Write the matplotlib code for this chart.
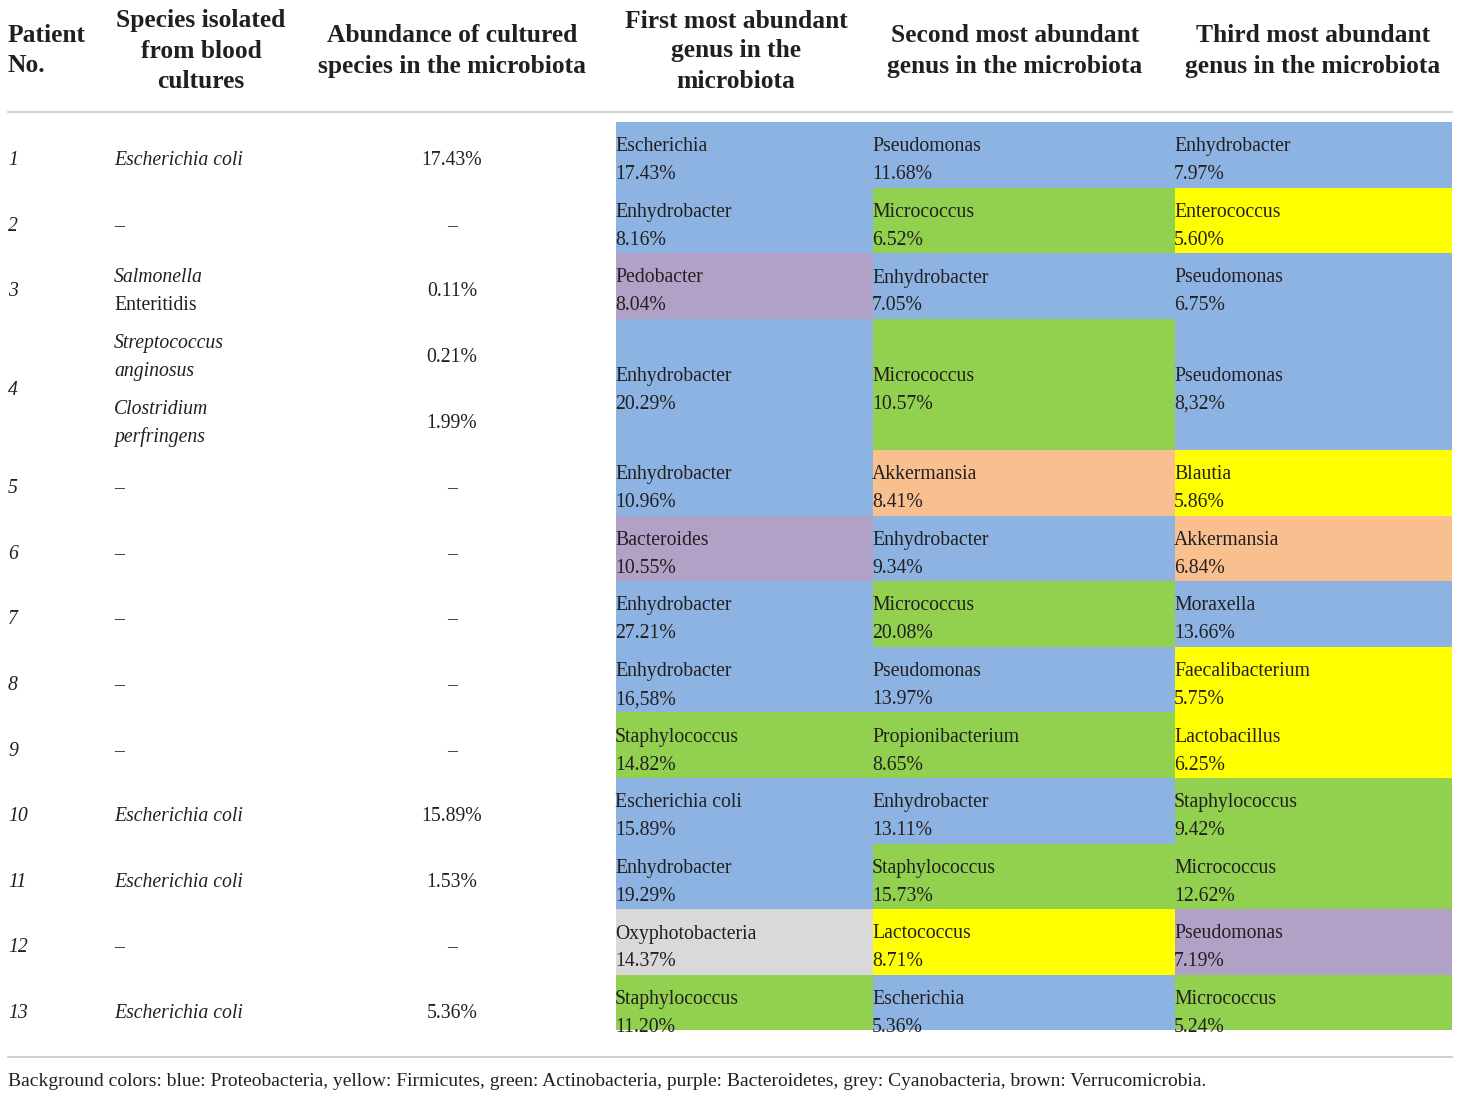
import matplotlib
matplotlib.use("Agg")
import matplotlib.pyplot as plt
from matplotlib.patches import Rectangle

plt.rcParams['font.family'] = ['Liberation Serif', 'DejaVu Serif']

patients = ["1", "2", "3", "4", "5", "6", "7", "8", "9", "10", "11", "12", "13"]
species = [["Escherichia coli"], ["–"], ["Salmonella\nEnteritidis"],
           ["Streptococcus\nanginosus", "Clostridium\nperfringens"],
           ["–"], ["–"], ["–"], ["–"], ["–"], ["Escherichia coli"], ["Escherichia coli"], ["–"], ["Escherichia coli"]]
species_italic_first_line_only = [False, False, True, False, False, False, False, False, False, False, False, False, False]
abundance = [["17.43%"], ["–"], ["0.11%"], ["0.21%", "1.99%"], ["–"], ["–"], ["–"], ["–"], ["–"],
             ["15.89%"], ["1.53%"], ["–"], ["5.36%"]]
row_span = [1, 1, 1, 2, 1, 1, 1, 1, 1, 1, 1, 1, 1]

first_genus = ["Escherichia", "Enhydrobacter", "Pedobacter", "Enhydrobacter", "Enhydrobacter", "Bacteroides",
               "Enhydrobacter", "Enhydrobacter", "Staphylococcus", "Escherichia coli", "Enhydrobacter",
               "Oxyphotobacteria", "Staphylococcus"]
first_pct = ["17.43%", "8.16%", "8.04%", "20.29%", "10.96%", "10.55%", "27.21%", "16,58%", "14.82%",
             "15.89%", "19.29%", "14.37%", "11.20%"]
first_phylum = ["blue", "blue", "purple", "blue", "blue", "purple", "blue", "blue", "green", "blue", "blue",
                "grey", "green"]

second_genus = ["Pseudomonas", "Micrococcus", "Enhydrobacter", "Micrococcus", "Akkermansia", "Enhydrobacter",
                "Micrococcus", "Pseudomonas", "Propionibacterium", "Enhydrobacter", "Staphylococcus",
                "Lactococcus", "Escherichia"]
second_pct = ["11.68%", "6.52%", "7.05%", "10.57%", "8.41%", "9.34%", "20.08%", "13.97%", "8.65%",
              "13.11%", "15.73%", "8.71%", "5.36%"]
second_phylum = ["blue", "green", "blue", "green", "brown", "blue", "green", "blue", "green", "blue", "green",
                 "yellow", "blue"]

third_genus = ["Enhydrobacter", "Enterococcus", "Pseudomonas", "Pseudomonas", "Blautia", "Akkermansia",
               "Moraxella", "Faecalibacterium", "Lactobacillus", "Staphylococcus", "Micrococcus",
               "Pseudomonas", "Micrococcus"]
third_pct = ["7.97%", "5.60%", "6.75%", "8,32%", "5.86%", "6.84%", "13.66%", "5.75%", "6.25%", "9.42%",
             "12.62%", "7.19%", "5.24%"]
third_phylum = ["blue", "yellow", "blue", "blue", "yellow", "brown", "blue", "yellow", "yellow", "green",
                "green", "purple", "green"]

headers = [["Patient", "No."], ["Species isolated", "from blood", "cultures"],
           ["Abundance of cultured", "species in the microbiota"],
           ["First most abundant", "genus in the", "microbiota"], ["Second most abundant", "genus in the microbiota"],
           ["Third most abundant", "genus in the microbiota"]]
footnote = ("Background colors: blue: Proteobacteria, yellow: Firmicutes, green: Actinobacteria, "
            "purple: Bacteroidetes, grey: Cyanobacteria, brown: Verrucomicrobia.")

phylum_colors = {"blue": "#8DB3E2", "green": "#92D050", "yellow": "#FFFF00", "purple": "#B2A1C7",
                 "grey": "#D9D9D9", "brown": "#FABF8F"}

W, H = 1460, 1098
fig = plt.figure(figsize=(W / 100, H / 100), dpi=100)
ax = fig.add_axes([0, 0, 1, 1])
ax.set_xlim(0, W)
ax.set_ylim(H, 0)
ax.axis("off")

FS = 14.2
HFS = 18.4
txt = "#231f20"

# headers
hx = [8, 201, 452, 736, 1015, 1313]
hal = ["left", "center", "center", "center", "center", "center"]
for x, a, lines in zip(hx, hal, headers):
    n = len(lines)
    for k, line in enumerate(lines):
        yy = 51 + (k - (n - 1) / 2) * 30
        ax.text(x, yy, line, ha=a, va="center", fontsize=HFS, fontweight="bold", color=txt)

ax.plot([8, 1452], [112, 112], color="#c8c8c8", lw=1.2)

# colored columns
col_x = [616, 873, 1175, 1452]
top = 122
row_h = 65.6
bottom_clip = 1030
cols = [(first_genus, first_pct, first_phylum), (second_genus, second_pct, second_phylum),
        (third_genus, third_pct, third_phylum)]

y = top
for i in range(len(patients)):
    h = row_h * row_span[i]
    y1 = min(y + h, bottom_clip)
    cy = y + h / 2
    for c, (g, p, ph) in enumerate(cols):
        ax.add_patch(Rectangle((col_x[c], y), col_x[c + 1] - col_x[c], y1 - y,
                               facecolor=phylum_colors[ph[i]], edgecolor="none"))
        ax.text(col_x[c] - 1, cy - 8, g[i], ha="left", va="center", fontsize=FS, color=txt)
        ax.text(col_x[c] - 1, cy + 20, p[i], ha="left", va="center", fontsize=FS, color=txt)
    # left columns
    ax.text(8, cy + 6, patients[i], ha="left", va="center", fontsize=FS, style="italic", color=txt)
    n = len(species[i])
    for k in range(n):
        sy = y + row_h * (k + 0.5) + 6 if n > 1 else cy + 6
        sp = species[i][k]
        if species_italic_first_line_only[i]:
            l1, l2 = sp.split("\n")
            ax.text(114, sy - 14, l1, ha="left", va="center", fontsize=FS, style="italic", color=txt)
            ax.text(114, sy + 14, l2, ha="left", va="center", fontsize=FS, color=txt)
        elif "\n" in sp:
            l1, l2 = sp.split("\n")
            ax.text(114, sy - 14, l1, ha="left", va="center", fontsize=FS, style="italic", color=txt)
            ax.text(114, sy + 14, l2, ha="left", va="center", fontsize=FS, style="italic", color=txt)
        else:
            st = "normal" if sp == "–" else "italic"
            ax.text(114, sy, sp, ha="left", va="center", fontsize=FS, style=st, color=txt)
        ax.text(452, sy, abundance[i][k], ha="center", va="center", fontsize=FS, color=txt)
    y += h

ax.plot([8, 1452], [1057, 1057], color="#c8c8c8", lw=1.2)
ax.text(8, 1081, footnote, ha="left", va="center", fontsize=14.0, color=txt)

fig.savefig("out.png", dpi=100)
